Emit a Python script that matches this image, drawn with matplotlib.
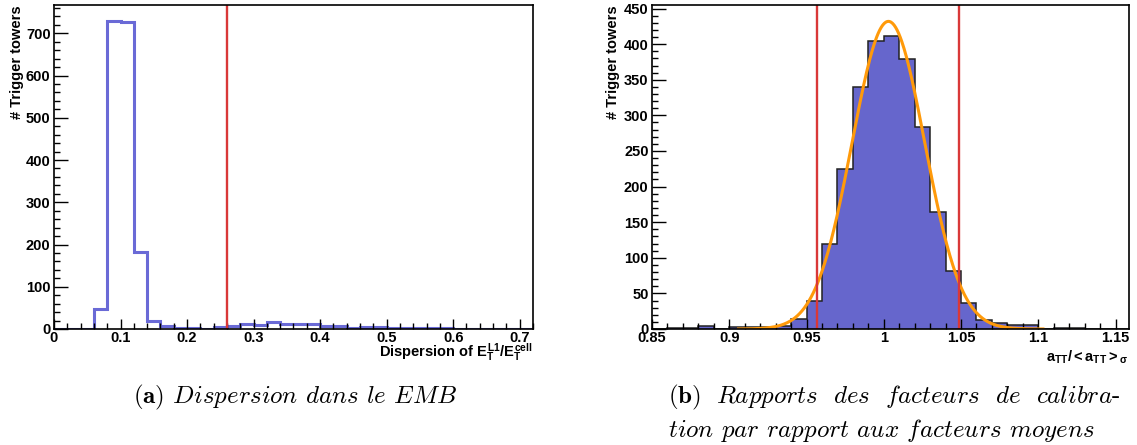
import numpy as np
import matplotlib
matplotlib.use("Agg")
import matplotlib.pyplot as plt
from matplotlib.ticker import MultipleLocator, FixedLocator

plt.rcParams['font.family'] = ['Liberation Sans', 'DejaVu Sans']
plt.rcParams['font.weight'] = 'bold'
plt.rcParams['mathtext.fontset'] = 'custom'
plt.rcParams['mathtext.rm'] = 'Liberation Sans:bold'
plt.rcParams['mathtext.it'] = 'Liberation Sans:bold'
plt.rcParams['mathtext.bf'] = 'Liberation Sans:bold'

# ---------------- data ----------------
# Left: dispersion of E_T^L1 / E_T^cell, bins of 0.02 from 0 to 0.72
disp_bin_width = 0.02
disp_start = 0.0
disp_counts = [0, 0, 0, 47, 730, 727, 183, 20, 7, 3, 2, 1, 5, 6, 13, 9, 16, 13,
               13, 13, 8, 8, 3, 5, 5, 2, 2, 3, 2, 2, 1, 1, 1, 1, 1, 1]
disp_cut = 0.26
disp_yticks = [0, 100, 200, 300, 400, 500, 600, 700]
disp_xticks = [0, 0.1, 0.2, 0.3, 0.4, 0.5, 0.6, 0.7]
disp_xticklabels = ['0', '0.1', '0.2', '0.3', '0.4', '0.5', '0.6', '0.7']

# Right: ratio a_TT / <a_TT>_sigma, bins of 0.01 from 0.85 to 1.16
ratio_bin_width = 0.01
ratio_start = 0.85
ratio_counts = [0, 1, 1, 4, 0, 3, 3, 3, 4, 14, 39, 120, 225, 340, 404, 412, 379,
                284, 164, 82, 37, 12, 8, 5, 5, 0, 2, 1, 0, 0, 0]
ratio_cuts = [0.957, 1.049]
fit_mean = 1.003
fit_sigma = 0.0235
fit_amp = 432
fit_range = (0.906, 1.103)
ratio_yticks = [0, 50, 100, 150, 200, 250, 300, 350, 400, 450]
ratio_xticks = [0.85, 0.9, 0.95, 1.0, 1.05, 1.1, 1.15]
ratio_xticklabels = ['0.85', '0.9', '0.95', '1', '1.05', '1.1', '1.15']

caption_a = ('(a)', 'Dispersion dans le EMB')
caption_b = ('(b)', 'Rapports des facteurs de calibra-', 'tion par rapport aux facteurs moyens')

# ---------------- figure ----------------
W, H = 1137, 445
fig = plt.figure(figsize=(W / 100, H / 100), dpi=100)

def px_axes(x0, y0, x1, y1):
    return fig.add_axes([x0 / W, 1 - y1 / H, (x1 - x0) / W, (y1 - y0) / H])

axL = px_axes(54, 5, 533, 329)
axR = px_axes(652, 5, 1129, 329)

HIST_LINE = '#6a6ad6'
HIST_FILL = '#6666cc'
RED = '#d93838'
ORANGE = '#ff9a0a'

def style_axis(ax, xmaj, xmin, ymaj, ymin):
    ax.xaxis.set_major_locator(xmaj)
    ax.xaxis.set_minor_locator(xmin)
    ax.yaxis.set_major_locator(ymaj)
    ax.yaxis.set_minor_locator(ymin)
    ax.tick_params(axis='x', which='major', direction='in', length=7, width=1.0,
                   labelsize=10.5, pad=1.5, top=False)
    ax.tick_params(axis='x', which='minor', direction='in', length=4, width=1.0, top=False)
    ax.tick_params(axis='y', which='major', direction='in', length=10, width=1.0,
                   labelsize=10.5, pad=2.5, right=False)
    ax.tick_params(axis='y', which='minor', direction='in', length=4.5, width=1.0, right=False)
    for s in ax.spines.values():
        s.set_linewidth(1.2)

# ---- left panel ----
disp_edges = disp_start + disp_bin_width * np.arange(len(disp_counts) + 1)
axL.stairs(disp_counts, disp_edges, color=HIST_LINE, linewidth=2.2, baseline=None)
axL.axvline(disp_cut, color=RED, linewidth=1.7)
axL.set_xlim(disp_edges[0], disp_edges[-1])
axL.set_ylim(0, 767)
style_axis(axL, FixedLocator(disp_xticks), MultipleLocator(0.02),
           FixedLocator(disp_yticks), MultipleLocator(20))
axL.set_xticklabels(disp_xticklabels, fontweight='bold')
axL.set_yticklabels([str(v) for v in disp_yticks], fontweight='bold')
axL.text(-0.077, 1.0, '# Trigger towers', rotation=90, ha='center', va='top',
         transform=axL.transAxes, fontsize=10.5, fontweight='bold')
axL.text(1.0, -0.072, r'Dispersion of $E_T^{L1}/E_T^{cell}$', ha='right', va='center',
         transform=axL.transAxes, fontsize=10.5, fontweight='bold')

# ---- right panel ----
ratio_edges = ratio_start + ratio_bin_width * np.arange(len(ratio_counts) + 1)
axR.stairs(ratio_counts, ratio_edges, fill=True, color=HIST_FILL, linewidth=0)
axR.stairs(ratio_counts, ratio_edges, color='#222222', linewidth=1.1, baseline=None)
xf = np.linspace(fit_range[0], fit_range[1], 400)
yf = fit_amp * np.exp(-0.5 * ((xf - fit_mean) / fit_sigma) ** 2)
axR.plot(xf, yf, color=ORANGE, linewidth=2.2)
for c in ratio_cuts:
    axR.axvline(c, color=RED, linewidth=1.7)
axR.set_xlim(ratio_edges[0], 1.1587)
axR.set_ylim(0, 455)
style_axis(axR, FixedLocator(ratio_xticks), MultipleLocator(0.01),
           FixedLocator(ratio_yticks), MultipleLocator(10))
axR.set_xticklabels(ratio_xticklabels, fontweight='bold')
axR.set_yticklabels([str(v) for v in ratio_yticks], fontweight='bold')
axR.text(-0.082, 1.0, '# Trigger towers', rotation=90, ha='center', va='top',
         transform=axR.transAxes, fontsize=10.5, fontweight='bold')
axR.text(1.0, -0.088, r'$a_{TT}/{<}a_{TT}{>}_{\sigma}$', ha='right', va='center',
         transform=axR.transAxes, fontsize=10.5, fontweight='bold')

# ---- captions ----
CAP_FS = 18
CAP_KW = dict(va='center', fontsize=CAP_FS, math_fontfamily='cm',
              family=['cmr10', 'DejaVu Serif'])

def word_str(w, bold=False):
    if w.endswith('-'):
        return r'$\mathit{' + w[:-1] + r'}$-'
    if bold:
        return r'$\mathbf{' + w + r'}$'
    return r'$\mathit{' + w + r'}$'

def cap_line(x0, y, lab, txt, x1=None):
    words = ([(lab, True)] if lab else []) + [(w, False) for w in txt.split(' ')]
    yf_ = 1 - y / H
    if x1 is None:
        s = ' '.join(word_str(w, b) for w, b in words)
        fig.text(x0 / W, yf_, s, ha='left', **CAP_KW)
        return
    # justified line: spread words between x0 and x1
    renderer = fig.canvas.get_renderer()
    objs = [fig.text(0, yf_, word_str(w, b), ha='left', **CAP_KW) for w, b in words]
    widths = [o.get_window_extent(renderer).width for o in objs]
    gap = (x1 - x0 - sum(widths)) / (len(objs) - 1)
    x = x0
    for o, wdt in zip(objs, widths):
        o.set_x(x / W)
        x += wdt + gap

cap_line(133, 397, caption_a[0], caption_a[1])
cap_line(668, 397, caption_b[0], caption_b[1], x1=1120)
cap_line(668, 430, None, caption_b[2])

fig.savefig('out.png', dpi=100)
